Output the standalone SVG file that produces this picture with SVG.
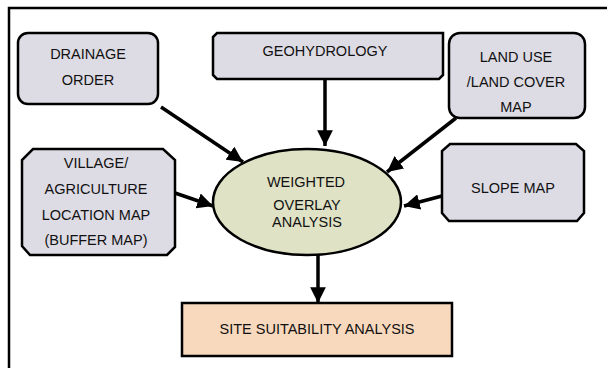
<svg xmlns="http://www.w3.org/2000/svg" width="607" height="368" viewBox="0 0 607 368">
<style>
.box{fill:#dddbe4;stroke:#000;stroke-width:2.5}
.ell{fill:#dfe2c4;stroke:#000;stroke-width:2.5}
.site{fill:#f8d9bd;stroke:#000;stroke-width:2.5}
text{font-family:"Liberation Sans",Arial,sans-serif;font-size:14.5px;fill:#111;text-anchor:middle}
.con line{stroke:#000;stroke-width:3.5}
</style>
<defs>
<marker id="ah" viewBox="0 0 10 10" refX="10" refY="5" markerWidth="4.5" markerHeight="4.5" markerUnits="strokeWidth" orient="auto">
<path d="M0,0 L10,5 L0,10 Z" fill="#000"/>
</marker>
</defs>
<rect width="607" height="368" fill="#fff"/>
<path d="M9,368 V8 H607" fill="none" stroke="#000" stroke-width="2.5"/>
<g id="drainage">
<rect class="box" x="18" y="33" width="140" height="71" rx="10"/>
<text x="88" y="59">DRAINAGE</text>
<text x="88" y="85">ORDER</text>
</g>
<g id="geohydrology">
<path class="box" d="M217,33 H443 V75 L439,79 H217 L213,75 V37 Z"/>
<text x="325" y="56">GEOHYDROLOGY</text>
</g>
<g id="landuse">
<rect class="box" x="449" y="33" width="136" height="85" rx="11"/>
<text x="516" y="62">LAND USE</text>
<text x="516" y="87">/LAND COVER</text>
<text x="516" y="112">MAP</text>
</g>
<g id="village">
<path class="box" d="M33,149 H163 L175,160 V247 L167,255 H30 L22,246 V160 Z"/>
<text x="96" y="168">VILLAGE/</text>
<text x="96" y="194">AGRICULTURE</text>
<text x="96" y="220">LOCATION MAP</text>
<text x="96" y="245">(BUFFER MAP)</text>
</g>
<g id="slope">
<path class="box" d="M450,144 H576 L584,151 V213 L577,221 H449 L442,213 V151 Z"/>
<text x="513" y="193">SLOPE MAP</text>
</g>
<g id="weighted">
<ellipse class="ell" cx="307" cy="202" rx="94" ry="53"/>
<text x="306" y="187">WEIGHTED</text>
<text x="307" y="210">OVERLAY</text>
<text x="307" y="227">ANALYSIS</text>
</g>
<g id="site">
<rect class="site" x="182" y="303" width="270" height="53"/>
<text x="317" y="334">SITE SUITABILITY ANALYSIS</text>
</g>
<g class="con" id="connectors">
<line x1="161" y1="107" x2="243" y2="162" marker-end="url(#ah)"/>
<line x1="325" y1="79" x2="325" y2="146" marker-end="url(#ah)"/>
<line x1="456" y1="118" x2="387" y2="172" marker-end="url(#ah)"/>
<line x1="175" y1="193" x2="213" y2="206" marker-end="url(#ah)"/>
<line x1="442" y1="196" x2="404" y2="206" marker-end="url(#ah)"/>
<line x1="318" y1="255" x2="318" y2="303" marker-end="url(#ah)"/>
</g>
</svg>
